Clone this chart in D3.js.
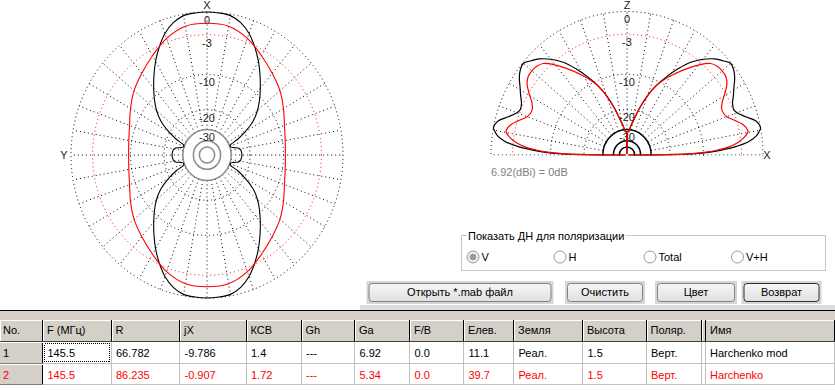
<!DOCTYPE html>
<html>
<head>
<meta charset="utf-8">
<title>Диаграммы направленности</title>
<script src="https://cdnjs.cloudflare.com/ajax/libs/d3/7.8.5/d3.min.js"></script>
<style>
body { margin: 0; background: #fff; }
svg { display: block; font-family: "Liberation Sans", Arial, sans-serif; font-size: 11px; }
.dot { fill: none; stroke: #000; stroke-width: 1; stroke-dasharray: 1,3; }
.lbl { fill: #222; text-anchor: middle; }
</style>
</head>
<body>
<svg id="chart" width="835" height="390"></svg>
<script>

// azimuth pattern, one quadrant (deg from X axis), dB relative to 6.92 dBi
var azAngles = [0, 5, 10, 15, 20, 25, 30, 35, 40, 45, 50, 55, 60, 64, 68, 71.5, 75, 78, 81, 85, 90];
var azBlack  = [0, -0.05, -0.18, -0.75, -1.75, -3.2, -4.85, -6.7, -8.6, -10.5, -12.6, -15.3, -19.5, -24, -29.3, -29.6, -28, -25.1, -24.2, -23.8, -23.6];
var azRedAngles = [0, 10, 20, 30, 40, 50, 60, 70, 80, 90];
var azRed       = [-1.43, -1.55, -2.45, -3.85, -5.1, -6.2, -7.5, -8.7, -9.35, -9.57];

// elevation pattern, 0..90 deg above horizon (mirrored for the other side)
var elAngles = [0, 1, 2, 3, 4, 6, 8, 10, 11, 14, 17, 20, 22, 25, 28, 31, 34, 37, 40, 43, 46, 50, 54, 58, 62, 66, 70, 74, 78, 82, 86, 89, 90];
var elBlack  = [-80, -13, -8.2, -6, -4.1, -1.8, -0.7, -0.15, 0, -0.4, -1.6, -2.6, -2.9, -2.7, -2.1, -1.5, -0.8, -0.3, -0.1, -0.65, -1.25, -2.4, -3.9, -6, -8.4, -11, -14.3, -18.5, -23.5, -27.5, -31.5, -31.5, -80];
var elRed    = [-80, -13.5, -9.4, -7, -5.3, -3.5, -2.45, -1.8, -1.75, -2.25, -3.3, -4.3, -4.6, -4.6, -4, -3, -2.1, -1.65, -1.58, -1.7, -2.1, -3.5, -5.2, -7, -8.8, -11.1, -14.3, -18.5, -23.5, -27.5, -31.5, -31.5, -80];

var ringDb = [0, -3, -10, -20];
var ringLabels = ["0", "-3", "-10", "-20", "-30"];
var solidDb = [-30, -40, -50];

var colNames = ["No.", "F (МГц)", "R", "jX", "КСВ", "Gh", "Ga", "F/B", "Елев.", "Земля", "Высота", "Поляр.", "Имя"];
var row1 = ["1", "145.5", "66.782", "-9.786", "1.4", "---", "6.92", "0.0", "11.1", "Реал.", "1.5", "Верт.", "Harchenko mod"];
var row2 = ["2", "145.5", "86.235", "-0.907", "1.72", "---", "5.34", "0.0", "39.7", "Реал.", "1.5", "Верт.", "Harchenko"];
var colEdges = [0, 43, 111.5, 180, 246.5, 301.5, 355, 410, 464, 514, 583, 646.5, 702, 835];

var polOptions = ["V", "H", "Total", "V+H"];
var buttons = ["Открыть *.mab файл", "Очистить", "Цвет", "Возврат"];

var svg = d3.select("#chart");

// MMANA log scale: radius = 10^(dB/40)
var toR = function (db) { return Math.pow(10, db / 40); };

function polarPlot(cx, cy, rx, ry, half, solidColor) {
  var x = d3.scaleLinear().domain([-1, 1]).range([cx - rx, cx + rx]);
  var y = d3.scaleLinear().domain([-1, 1]).range([cy + ry, cy - ry]);
  var g = svg.append("g");
  var grid = g.append("g");

  if (half) {
    var id = "clip" + Math.round(cx);
    svg.append("clipPath").attr("id", id)
      .append("rect").attr("x", 0).attr("y", 0).attr("width", 835).attr("height", cy + 0.5);
    grid.attr("clip-path", "url(#" + id + ")");
  }

  // spokes every 10 deg
  var spokes = half ? d3.range(0, 181, 10) : d3.range(0, 360, 10);
  var r0 = toR(-30);
  grid.selectAll(".spoke").data(spokes).enter().append("line")
    .attr("class", "dot")
    .attr("x1", function (a) { var t = a * Math.PI / 180; return x(r0 * (half ? Math.cos(t) : Math.sin(t))); })
    .attr("y1", function (a) { var t = a * Math.PI / 180; return y(r0 * (half ? Math.sin(t) : Math.cos(t))); })
    .attr("x2", function (a) { var t = a * Math.PI / 180; return x(half ? Math.cos(t) : Math.sin(t)); })
    .attr("y2", function (a) { var t = a * Math.PI / 180; return y(half ? Math.sin(t) : Math.cos(t)); });

  grid.selectAll(".ring").data(ringDb).enter().append("ellipse")
    .attr("class", "dot")
    .style("stroke", function (d) { return d == -3 ? "#f00" : "#000"; })
    .attr("cx", x(0)).attr("cy", y(0))
    .attr("rx", function (d) { return x(toR(d)) - x(0); })
    .attr("ry", function (d) { return y(0) - y(toR(d)); });

  grid.selectAll(".solid").data(solidDb).enter().append("ellipse")
    .attr("fill", "none").attr("stroke", solidColor).attr("stroke-width", 1.5)
    .attr("cx", x(0)).attr("cy", y(0))
    .attr("rx", function (d) { return x(toR(d)) - x(0); })
    .attr("ry", function (d) { return y(0) - y(toR(d)); });

  g.selectAll(".lbl").data(ringDb.concat([-30])).enter().append("text")
    .attr("class", "lbl")
    .attr("x", x(0))
    .attr("y", function (d) { return y(toR(d)) + 8; })
    .attr("dy", "0.35em")
    .text(function (d, i) { return ringLabels[i]; });

  return { g: g, x: x, y: y };
}

// ---------- azimuth (left) ----------
var az = polarPlot(207, 155, 136, 143, false, "#8c8c8c");

function azPoints(angles, vals) {
  var pts = [];
  angles.forEach(function (a, i) { pts.push([a, vals[i]]); });
  for (var i = angles.length - 2; i >= 0; i--) pts.push([180 - angles[i], vals[i]]);
  for (var j = 1; j < angles.length; j++) pts.push([180 + angles[j], vals[j]]);
  for (var k = angles.length - 2; k > 0; k--) pts.push([360 - angles[k], vals[k]]);
  return pts;
}

var azLine = d3.line()
  .x(function (d) { return az.x(toR(d[1]) * Math.sin(d[0] * Math.PI / 180)); })
  .y(function (d) { return az.y(toR(d[1]) * Math.cos(d[0] * Math.PI / 180)); })
  .curve(d3.curveCatmullRomClosed.alpha(0.5));

az.g.append("path").attr("d", azLine(azPoints(azAngles, azBlack)))
  .attr("fill", "none").attr("stroke", "#000").attr("stroke-width", 1.1);
az.g.append("path").attr("d", azLine(azPoints(azRedAngles, azRed)))
  .attr("fill", "none").attr("stroke", "#f00").attr("stroke-width", 1.1);

svg.append("text").attr("class", "lbl").attr("x", 207).attr("y", 8.5).text("X");
svg.append("text").attr("class", "lbl").attr("x", 64).attr("y", 155).attr("dy", "0.35em").text("Y");

// ---------- elevation (right) ----------
var el = polarPlot(627, 155, 136, 143.5, true, "#000");

function elPoints(angles, vals) {
  var pts = [];
  angles.forEach(function (a, i) { pts.push([a, vals[i]]); });
  for (var i = angles.length - 2; i >= 0; i--) pts.push([180 - angles[i], vals[i]]);
  return pts;
}

var elLine = d3.line()
  .x(function (d) { return el.x(toR(d[1]) * Math.cos(d[0] * Math.PI / 180)); })
  .y(function (d) { return el.y(toR(d[1]) * Math.sin(d[0] * Math.PI / 180)); })
  .curve(d3.curveCatmullRom.alpha(0.5));

el.g.append("path").attr("d", elLine(elPoints(elAngles, elBlack)))
  .attr("fill", "none").attr("stroke", "#000").attr("stroke-width", 1.2);
el.g.append("path").attr("d", elLine(elPoints(elAngles, elRed)))
  .attr("fill", "none").attr("stroke", "#f00").attr("stroke-width", 1.2);

svg.append("text").attr("class", "lbl").attr("x", 627).attr("y", 8.5).text("Z");
svg.append("text").attr("class", "lbl").attr("x", 767).attr("y", 155).attr("dy", "0.35em").text("X");
svg.append("text").attr("x", 491).attr("y", 172).attr("dy", "0.35em")
  .attr("fill", "#808080").text("6.92(dBi) = 0dB");

// ---------- polarisation group ----------
var grp = svg.append("g");
grp.append("rect").attr("x", 461.5).attr("y", 235.5).attr("width", 364).attr("height", 35)
  .attr("fill", "none").attr("stroke", "#c8c8c0");
var title = grp.append("text").attr("x", 468).attr("y", 236).attr("dy", "0.35em")
  .text("Показать ДН для поляризации");
var bb = title.node().getBBox();
grp.insert("rect", "text").attr("x", bb.x - 1).attr("y", bb.y).attr("width", bb.width + 2)
  .attr("height", bb.height).attr("fill", "#fff");

var radioX = [473, 560, 650, 737.5];
polOptions.forEach(function (p, i) {
  grp.append("circle").attr("cx", radioX[i]).attr("cy", 257).attr("r", 6)
    .attr("fill", i == 0 ? "#ececec" : "#fff").attr("stroke", "#9a9a9a");
  if (i == 0) grp.append("circle").attr("cx", radioX[i]).attr("cy", 257).attr("r", 3.2).attr("fill", "#9a9a9a");
  grp.append("text").attr("x", radioX[i] + 8.5).attr("y", 257).attr("dy", "0.35em").text(p);
});

// ---------- buttons ----------
var btnX = [366.5, 565, 655, 741.5];
var btnW = [187, 80, 82, 80];
svg.append("rect").attr("x", 360).attr("y", 305).attr("width", 475).attr("height", 5).attr("fill", "#dcdcdc");
var defs = svg.append("defs");
var grad = defs.append("linearGradient").attr("id", "btng").attr("x1", 0).attr("y1", 0).attr("x2", 0).attr("y2", 1);
grad.append("stop").attr("offset", "0").attr("stop-color", "#f6f6f6");
grad.append("stop").attr("offset", "1").attr("stop-color", "#e0e0e0");

buttons.forEach(function (b, i) {
  var bx = btnX[i], bw = btnW[i];
  svg.append("rect").attr("x", bx).attr("y", 281).attr("width", bw).attr("height", 23).attr("fill", "#d6d6d6");
  svg.append("rect").attr("x", bx + 2.5).attr("y", 283.5).attr("width", bw - 5).attr("height", 18).attr("rx", 3)
    .attr("fill", "url(#btng)").attr("stroke", i == 3 ? "#303030" : "#808080");
  svg.append("text").attr("x", bx + bw / 2).attr("y", 292.5).attr("dy", "0.35em")
    .attr("text-anchor", "middle").text(b);
});

// ---------- table ----------
var tbl = svg.append("g").attr("shape-rendering", "crispEdges");
tbl.append("rect").attr("x", 0).attr("y", 310).attr("width", 835).attr("height", 10).attr("fill", "#d4d0c8");
tbl.append("line").attr("x1", 0).attr("x2", 835).attr("y1", 310.5).attr("y2", 310.5).attr("stroke", "#000");

var rowTop = [320, 342, 363.5];
var rowH = [21.5, 21.5, 21.5];

// header cells
colNames.forEach(function (c, i) {
  var x0 = colEdges[i], x1 = colEdges[i + 1];
  tbl.append("rect").attr("x", x0).attr("y", 320).attr("width", x1 - x0).attr("height", 21.5).attr("fill", "#d4d0c8");
  tbl.append("line").attr("x1", x0 + 0.5).attr("x2", x0 + 0.5).attr("y1", 320).attr("y2", 341).attr("stroke", "#fff");
  tbl.append("line").attr("x1", x0).attr("x2", x1).attr("y1", 320.5).attr("y2", 320.5).attr("stroke", "#fff");
  tbl.append("line").attr("x1", x1 - 0.5).attr("x2", x1 - 0.5).attr("y1", 320).attr("y2", 342).attr("stroke", "#000");
  tbl.append("text").attr("x", i == 12 ? 710 : x0 + (i == 0 ? 3 : 4)).attr("y", 330.5).attr("dy", "0.35em").text(c);
});
tbl.append("line").attr("x1", 705.5).attr("x2", 705.5).attr("y1", 320).attr("y2", 342).attr("stroke", "#000");
tbl.append("line").attr("x1", 0).attr("x2", 835).attr("y1", 341.5).attr("y2", 341.5).attr("stroke", "#404040");

[row1, row2].forEach(function (row, r) {
  var top = rowTop[r + 1], h = rowH[r + 1];
  var color = r == 0 ? "#000" : "#f00";
  row.forEach(function (v, i) {
    var x0 = colEdges[i], x1 = colEdges[i + 1];
    tbl.append("rect").attr("x", x0).attr("y", top).attr("width", x1 - x0).attr("height", h)
      .attr("fill", i == 0 ? "#d4d0c8" : "#fff");
    tbl.append("line").attr("x1", x1 - 0.5).attr("x2", x1 - 0.5).attr("y1", top).attr("y2", top + h)
      .attr("stroke", i == 0 ? "#000" : "#c0c0c0");
    tbl.append("text").attr("x", i == 12 ? 710 : x0 + (i == 0 ? 3 : 4.5)).attr("y", top + h / 2 + 0.5)
      .attr("dy", "0.35em").attr("fill", color).text(v);
  });
  tbl.append("line").attr("x1", 705.5).attr("x2", 705.5).attr("y1", top).attr("y2", top + h).attr("stroke", "#c0c0c0");
  tbl.append("line").attr("x1", 0).attr("x2", 43).attr("y1", top + 0.5).attr("y2", top + 0.5).attr("stroke", "#fff");
  tbl.append("line").attr("x1", 0).attr("x2", 43).attr("y1", top + h - 0.5).attr("y2", top + h - 0.5).attr("stroke", "#808080");
  tbl.append("line").attr("x1", 43).attr("x2", 835).attr("y1", top + h - 0.5).attr("y2", top + h - 0.5).attr("stroke", "#c0c0c0");
});

// focus rectangle on first data cell
tbl.append("rect").attr("x", 44.5).attr("y", 343.5).attr("width", 65).attr("height", 18)
  .attr("fill", "none").attr("stroke", "#000").attr("stroke-dasharray", "1,1");

</script>
</body>
</html>
